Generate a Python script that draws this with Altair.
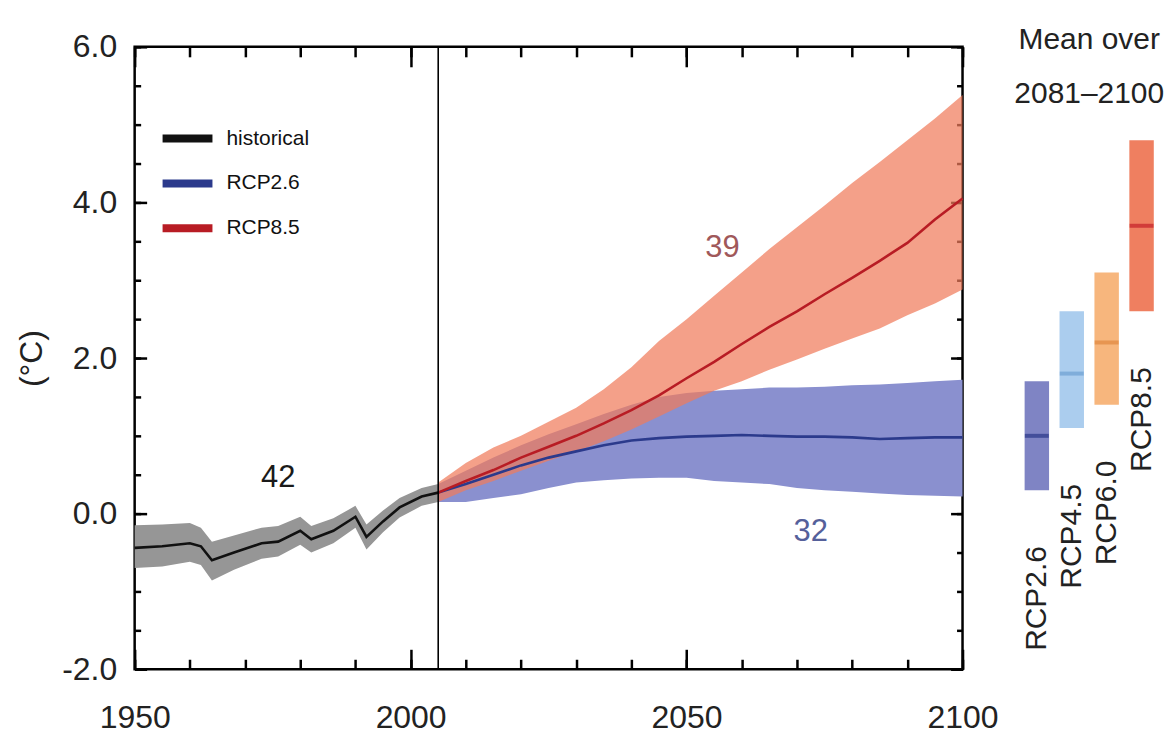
import altair as alt
import pandas as pd

# ---------------------------------------------------------------------------
# Global mean surface temperature change relative to 1986–2005 (°C)
# ---------------------------------------------------------------------------
hist_years = [1950, 1955, 1960, 1962, 1964, 1968, 1973, 1976, 1980, 1982,
              1986, 1990, 1992, 1995, 1998, 2002, 2005]
hist_mean = [-0.44, -0.42, -0.38, -0.42, -0.60, -0.50, -0.38, -0.36, -0.22, -0.33,
             -0.22, -0.04, -0.30, -0.10, 0.08, 0.22, 0.27]
hist_lo = [-0.70, -0.68, -0.62, -0.66, -0.86, -0.72, -0.58, -0.55, -0.40, -0.50,
           -0.38, -0.18, -0.46, -0.24, -0.05, 0.10, 0.15]
hist_hi = [-0.15, -0.14, -0.12, -0.18, -0.36, -0.28, -0.18, -0.16, -0.04, -0.16,
           -0.06, 0.10, -0.14, 0.04, 0.20, 0.33, 0.38]

proj_years = [2005, 2010, 2015, 2020, 2025, 2030, 2035, 2040, 2045, 2050,
              2055, 2060, 2065, 2070, 2075, 2080, 2085, 2090, 2095, 2100]
rcp26_mean = [0.27, 0.38, 0.50, 0.62, 0.72, 0.80, 0.88, 0.94, 0.97, 0.99,
              1.00, 1.01, 1.00, 0.99, 0.99, 0.98, 0.96, 0.97, 0.98, 0.98]
rcp26_lo = [0.15, 0.15, 0.20, 0.25, 0.33, 0.40, 0.43, 0.45, 0.46, 0.46,
            0.42, 0.40, 0.38, 0.33, 0.30, 0.28, 0.26, 0.24, 0.23, 0.22]
rcp26_hi = [0.38, 0.55, 0.72, 0.88, 1.02, 1.15, 1.28, 1.40, 1.50, 1.55,
            1.58, 1.60, 1.62, 1.62, 1.63, 1.65, 1.66, 1.68, 1.70, 1.72]
rcp85_mean = [0.27, 0.42, 0.56, 0.72, 0.86, 1.00, 1.16, 1.33, 1.52, 1.74,
              1.95, 2.18, 2.40, 2.60, 2.82, 3.03, 3.25, 3.48, 3.78, 4.05]
rcp85_lo = [0.15, 0.30, 0.42, 0.55, 0.68, 0.80, 0.93, 1.08, 1.25, 1.42,
            1.58, 1.70, 1.85, 1.98, 2.12, 2.25, 2.38, 2.55, 2.70, 2.88]
rcp85_hi = [0.40, 0.65, 0.85, 1.00, 1.18, 1.36, 1.60, 1.88, 2.22, 2.50,
            2.80, 3.10, 3.40, 3.68, 3.96, 4.25, 4.52, 4.80, 5.08, 5.38]

# number of models in each ensemble, with where the count is written
count_text = ["42", "39", "32"]
count_year = [1976, 2056.5, 2072.5]
count_value = [0.46, 3.41, -0.24]
count_color = ["#1a1a1a", "#a0585a", "#55609a"]

# 2081–2100 means and likely ranges for all four pathways
bar_scen = ["RCP2.6", "RCP4.5", "RCP6.0", "RCP8.5"]
bar_mean = [1.0, 1.8, 2.2, 3.7]
bar_lo = [0.3, 1.1, 1.4, 2.6]
bar_hi = [1.7, 2.6, 3.1, 4.8]
bar_fill = ["#7f84c4", "#abcdee", "#f7b67d", "#ef7f60"]
bar_line = ["#2a3889", "#6c9fd2", "#e0873f", "#c4202a"]

series_names = ["historical", "RCP2.6", "RCP8.5"]
series_colors = ["#111111", "#2b3a8c", "#b81c24"]

FONT = "Liberation Sans, Arial, Helvetica, sans-serif"
W, H = 830, 624

hist = pd.DataFrame({"year": hist_years, "mean": hist_mean, "lo": hist_lo,
                     "hi": hist_hi, "scenario": "historical"})
r26 = pd.DataFrame({"year": proj_years, "mean": rcp26_mean, "lo": rcp26_lo,
                    "hi": rcp26_hi, "scenario": "RCP2.6"})
r85 = pd.DataFrame({"year": proj_years, "mean": rcp85_mean, "lo": rcp85_lo,
                    "hi": rcp85_hi, "scenario": "RCP8.5"})
lines = pd.concat([hist, r26, r85], ignore_index=True)
counts = pd.DataFrame({"txt": count_text, "year": count_year,
                       "value": count_value, "col": count_color})
bars = pd.DataFrame({"scenario": bar_scen, "mean": bar_mean, "lo": bar_lo,
                     "hi": bar_hi})

xs = alt.Scale(domain=[1950, 2100], nice=False, zero=False)
ys = alt.Scale(domain=[-2, 6], nice=False, zero=False)

x_major = [1950, 2000, 2050, 2100]
x_minor = list(range(1950, 2101, 10))
y_major = [-2, 0, 2, 4, 6]
y_minor = [v / 2 for v in range(-4, 13)]

# one decimal, with a plain hyphen for negatives
Y_LABEL = ("datum.value < 0 ? '-' + format(-datum.value, '.1f') "
           ": format(datum.value, '.1f')")


def axis(orient, values, size, labels=False, title=None):
    """Inward-pointing ticks: the axis line is pulled inside by the tick length."""
    kw = dict(orient=orient, values=values, tickSize=size, offset=-size,
              labels=labels, domain=False, grid=False, tickWidth=2.5,
              tickColor="black", title=title)
    if labels:
        kw.update(labelFont=FONT, labelFontSize=32, labelColor="#222222",
                  labelFlush=False, labelOverlap=False)
        if orient in ("bottom", "top"):
            kw.update(format="d", labelPadding=33)
        else:
            kw.update(labelExpr=Y_LABEL, labelPadding=18)
    if title:
        kw.update(titleFont=FONT, titleFontSize=32, titleFontWeight="normal",
                  titleColor="#222222", titlePadding=13)
    return alt.Axis(**kw)


band_hist = alt.Chart(hist).mark_area(color="#969696").encode(
    x=alt.X("year:Q", scale=xs, axis=axis("bottom", x_major, 20, True)),
    y=alt.Y("lo:Q", scale=ys, axis=axis("left", y_major, 12, True, "(°C)")),
    y2="hi:Q",
)
band_26 = alt.Chart(r26).mark_area(color="#8a90cf").encode(
    x=alt.X("year:Q", scale=xs, axis=axis("bottom", x_minor, 10)),
    y=alt.Y("lo:Q", scale=ys, axis=axis("left", y_minor, 6)),
    y2="hi:Q",
)
band_85 = alt.Chart(r85).mark_area(color="#f07c5c", opacity=0.72).encode(
    x=alt.X("year:Q", scale=xs, axis=axis("top", x_major, 20)),
    y=alt.Y("lo:Q", scale=ys, axis=axis("right", y_major, 12)),
    y2="hi:Q",
)
mean_lines = alt.Chart(lines).mark_line(strokeWidth=2.6).encode(
    x=alt.X("year:Q", scale=xs, axis=axis("top", x_minor, 10)),
    y=alt.Y("mean:Q", scale=ys, axis=axis("right", y_minor, 6)),
    color=alt.Color(
        "scenario:N",
        scale=alt.Scale(domain=series_names, range=series_colors),
        legend=alt.Legend(
            orient="none", legendX=24, legendY=63, title=None,
            symbolType="stroke", symbolStrokeWidth=8, symbolSize=2500,
            labelFont=FONT, labelFontSize=21, labelColor="#111111",
            labelOffset=10, rowPadding=0,
        ),
    ),
    detail="scenario:N",
)
split = alt.Chart(pd.DataFrame({"year": [2005]})).mark_rule(
    color="black", strokeWidth=1.6
).encode(x=alt.X("year:Q", scale=xs, axis=None))

count_labels = alt.Chart(counts).mark_text(font=FONT, fontSize=31).encode(
    x=alt.X("year:Q", scale=xs, axis=None),
    y=alt.Y("value:Q", scale=ys, axis=None),
    text="txt:N",
    color=alt.Color("col:N", scale=None),
)

main = alt.layer(
    band_hist, band_26, band_85, mean_lines, split, count_labels
).resolve_axis(x="independent", y="independent").properties(width=W, height=H)

# ---- side panel: 2081–2100 mean and range per pathway ----
PW = 140
bx = alt.X("scenario:N", sort=bar_scen, axis=None,
           scale=alt.Scale(paddingInner=0.3, paddingOuter=0.15))
by = alt.Y("lo:Q", scale=ys, axis=None)

side_bars = alt.Chart(bars).mark_bar().encode(
    x=bx, y=by, y2="hi:Q",
    color=alt.Color("scenario:N", scale=alt.Scale(domain=bar_scen, range=bar_fill),
                    legend=None),
)
side_means = alt.Chart(bars).mark_tick(thickness=4, size=24).encode(
    x=bx, y=alt.Y("mean:Q", scale=ys, axis=None),
    color=alt.Color("scenario:N", scale=alt.Scale(domain=bar_scen, range=bar_line),
                    legend=None),
)
side_labels = alt.Chart(bars).mark_text(
    angle=270, align="right", baseline="middle", dx=-56,
    font=FONT, fontSize=30, color="#222222",
).encode(x=bx, y=by, text="scenario:N")
side_title = alt.Chart(pd.DataFrame({"t": [0]})).mark_text(
    text=["Mean over", "2081\u20132100"], font=FONT, fontSize=30,
    lineHeight=54, align="center", baseline="alphabetic", color="#222222",
).encode(x=alt.value(PW / 2), y=alt.value(2))

side = alt.layer(side_bars, side_means, side_labels, side_title).resolve_scale(
    color="independent"
).properties(width=PW, height=H, view=alt.ViewBackground(stroke="transparent"))

chart = alt.hconcat(main, side, spacing=13).configure_view(
    stroke="black", strokeWidth=2.5
).properties(
    padding={"left": 14, "top": 22, "right": 3, "bottom": 3},
    background="white",
)

chart.save("out.html", embed_options={"renderer": "svg", "actions": False})
